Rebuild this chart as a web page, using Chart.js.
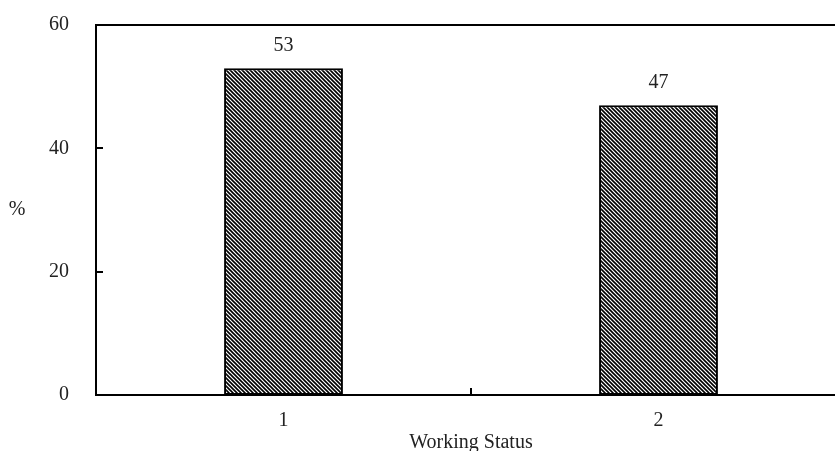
<!DOCTYPE html>
<html lang="en">
<head>
    <meta charset="UTF-8">
    <title>Working Status</title>
    <style>
        body {
            margin: 0;
            background: #fff;
            overflow: hidden;
        }
        #wrap {
            width: 846px;
            height: 455px;
        }
    </style>
</head>
<body>
    <div id="wrap">
        <canvas id="statusChart" width="846" height="455"></canvas>
    </div>

    <script src="https://cdn.jsdelivr.net/npm/chart.js"></script>
    <script>
        // chart data
        const categories = ['1', '2'];
        const percentValues = [53, 47];
        const yTicks = [0, 20, 40, 60];

        const FONT = '"Liberation Serif", "Times New Roman", serif';
        const FONT_SIZE = 20;

        // diagonal hatch fill (\\\)
        function makeHatch() {
            const size = 4;
            const c = document.createElement('canvas');
            c.width = size;
            c.height = size;
            const g = c.getContext('2d');
            g.fillStyle = '#fff';
            g.fillRect(0, 0, size, size);
            g.strokeStyle = '#000';
            g.lineWidth = 1.6;
            g.beginPath();
            g.moveTo(-1, -1); g.lineTo(size + 1, size + 1);
            g.moveTo(-1, size - 1); g.lineTo(1, size + 1);
            g.moveTo(size - 1, -1); g.lineTo(size + 1, 1);
            g.stroke();
            return g.createPattern(c, 'repeat');
        }

        // value labels, inward ticks, "%" title
        const extras = {
            id: 'extras',
            afterDraw(chart) {
                const ctx = chart.ctx;
                const area = chart.chartArea;
                const x = chart.scales.x;
                const y = chart.scales.y;
                ctx.save();
                ctx.strokeStyle = '#000';
                ctx.lineWidth = 2;

                // y ticks pointing into the plot
                yTicks.slice(1, -1).forEach(v => {
                    const py = Math.round(y.getPixelForValue(v));
                    ctx.beginPath();
                    ctx.moveTo(area.left, py);
                    ctx.lineTo(area.left + 7, py);
                    ctx.stroke();
                });

                // x tick between categories
                for (let i = 0; i < categories.length - 1; i++) {
                    const px = Math.round((x.getPixelForValue(i) + x.getPixelForValue(i + 1)) / 2);
                    ctx.beginPath();
                    ctx.moveTo(px, area.bottom);
                    ctx.lineTo(px, area.bottom - 7);
                    ctx.stroke();
                }

                // values over the bars
                ctx.fillStyle = '#222';
                ctx.font = FONT_SIZE + 'px ' + FONT;
                ctx.textAlign = 'center';
                ctx.textBaseline = 'middle';
                chart.getDatasetMeta(0).data.forEach((bar, i) => {
                    ctx.fillText(String(percentValues[i]), bar.x, bar.y - 22);
                });

                // y axis title, kept horizontal
                ctx.fillText('%', 17, (area.top + area.bottom) / 2);
                ctx.restore();
            }
        };

        const ctx = document.getElementById('statusChart').getContext('2d');
        new Chart(ctx, {
            type: 'bar',
            data: {
                labels: categories,
                datasets: [{
                    data: percentValues,
                    backgroundColor: makeHatch(),
                    borderColor: '#000',
                    borderWidth: 2,
                    borderSkipped: false,
                    barPercentage: 0.317,
                    categoryPercentage: 1
                }]
            },
            options: {
                responsive: false,
                animation: false,
                layout: { padding: { top: 25, right: 0, left: 0, bottom: 0 } },
                plugins: {
                    legend: { display: false },
                    tooltip: { enabled: false }
                },
                scales: {
                    x: {
                        offset: true,
                        grid: { display: false },
                        border: { display: true, color: '#000', width: 2 },
                        ticks: {
                            color: '#222',
                            padding: 6,
                            font: { family: FONT, size: FONT_SIZE }
                        },
                        title: {
                            display: true,
                            text: 'Working Status',
                            color: '#222',
                            padding: { top: 0, bottom: 0 },
                            font: { family: FONT, size: FONT_SIZE }
                        },
                        afterFit(scale) {
                            scale.height = 60;
                            scale.paddingLeft = 0;
                            scale.paddingRight = 0;
                        }
                    },
                    x2: {
                        position: 'top',
                        grid: { display: false },
                        border: { display: true, color: '#000', width: 2 },
                        ticks: { display: false },
                        afterFit(scale) { scale.height = 0; }
                    },
                    y: {
                        min: 0,
                        max: 60,
                        afterBuildTicks(scale) {
                            scale.ticks = yTicks.map(v => ({ value: v }));
                        },
                        grid: { display: false },
                        border: { display: true, color: '#000', width: 2 },
                        ticks: {
                            color: '#222',
                            padding: 19,
                            font: { family: FONT, size: FONT_SIZE }
                        },
                        afterFit(scale) {
                            scale.width = 96;
                            scale.paddingTop = 0;
                            scale.paddingBottom = 0;
                        }
                    }
                }
            },
            plugins: [extras]
        });
    </script>
</body>
</html>
